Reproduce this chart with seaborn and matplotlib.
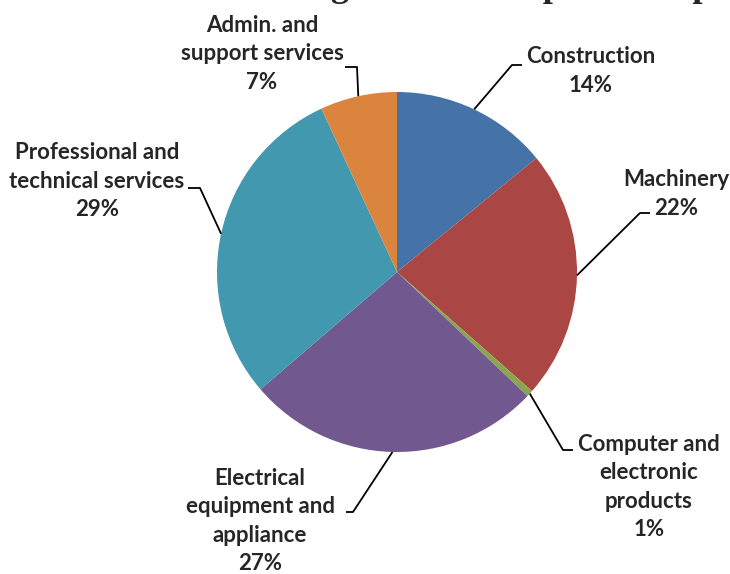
import numpy as np
import matplotlib
matplotlib.use("Agg")
import matplotlib.pyplot as plt
import seaborn as sns

# Data
categories = ["Construction", "Machinery", "Computer and\nelectronic\nproducts",
              "Electrical\nequipment and\nappliance", "Professional and\ntechnical services",
              "Admin. and\nsupport services"]
shares = [14.1, 22.4, 0.6, 26.6, 29.4, 6.9]
colors = ["#4573A7", "#AA4644", "#89A54E", "#71588F", "#4198AF", "#DB843D"]

# layout (pixels, y measured from top)
W, H = 730, 574
cx, cy, r = 397, 272, 180
label_xy = [(591, 71), (676, 194), (649, 487), (260, 521), (97, 181), (262, 54)]
leader = [((512, 65), (522, 65)), ((640, 213), (650, 213)), ((563, 450), (573, 450)),
          ((353, 512), (346, 512)), ((200, 188), (188, 188)), ((357, 67), (345, 67))]

sns.set_theme(style="white")
fig = plt.figure(figsize=(W / 100, H / 100), dpi=100)
ax = fig.add_axes([0, 0, 1, 1])

ax.pie(shares, colors=colors, startangle=90, counterclock=False,
       center=(cx, H - cy), radius=r, wedgeprops=dict(linewidth=0))
ax.set_xlim(0, W)
ax.set_ylim(0, H)
ax.set_aspect("equal")
ax.axis("off")

# labels with leader lines
cum = 0
for cat, v, (tx, ty), (kink, end) in zip(categories, shares, label_xy, leader):
    mid = np.deg2rad(90 - 360 * (cum + v / 2) / 100)
    cum += v
    ax_x = cx + r * np.cos(mid)
    ax_y = (H - cy) + r * np.sin(mid)
    ax.plot([ax_x, kink[0], end[0]], [ax_y, H - kink[1], H - end[1]],
            color="black", lw=1.3, solid_capstyle="butt")
    ax.text(tx, H - ty, f"{cat}\n{round(v)}%", ha="center", va="center",
            fontsize=16, fontweight="bold", family="Lato", linespacing=1.45)

# title, mostly cut off at the top edge of the image
fig.text(195 / W, 1 + 4 / H, "Percentage of Total Expansion Spending",
         ha="left", va="baseline", fontsize=26, fontweight="bold",
         family="Liberation Serif")

fig.savefig("out.png", dpi=100)
